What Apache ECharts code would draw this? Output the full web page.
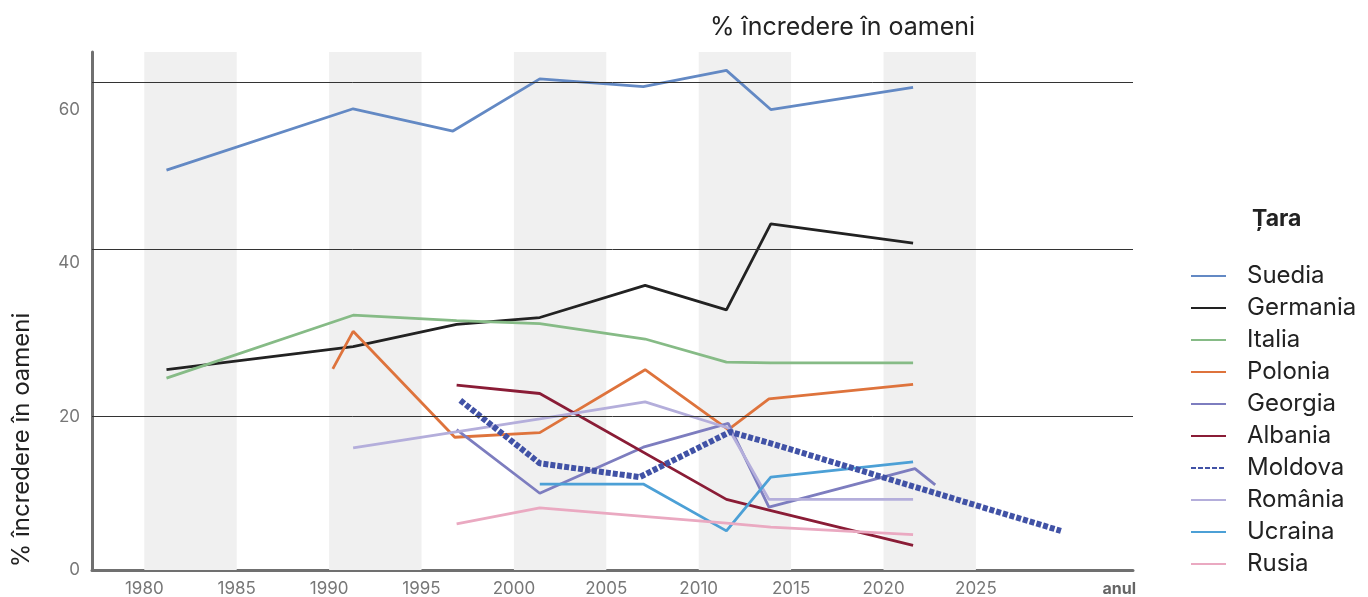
<!DOCTYPE html>
<html>
<head>
<meta charset="utf-8">
<title>% încredere în oameni</title>
<script type="text/javascript" src="https://cdn.jsdelivr.net/npm/echarts@6/dist/echarts.min.js"></script>
<style>
  html, body { margin: 0; padding: 0; background: #fff; }
  #chart { width: 1368px; height: 597px; }
</style>
</head>
<body>
<div id="chart"></div>
<script type="text/javascript">
// date: [an, valoare]
var suedia   = [[1981.2, 52.1], [1991.3, 60.1], [1996.7, 57.2], [2001.4, 64.0], [2007.0, 63.0], [2011.5, 65.1], [2013.9, 60.0], [2021.6, 62.9]];
var germania = [[1981.2, 26.1], [1991.3, 29.1], [1996.9, 32.0], [2001.4, 32.9], [2007.1, 37.1], [2011.5, 33.9], [2013.9, 45.1], [2021.6, 42.6]];
var italia   = [[1981.2, 25.0], [1991.3, 33.2], [1996.9, 32.5], [2001.4, 32.1], [2007.1, 30.1], [2011.5, 27.1], [2013.9, 27.0], [2021.6, 27.0]];
var polonia  = [[1990.2, 26.2], [1991.3, 31.1], [1996.8, 17.3], [2001.4, 17.9], [2007.1, 26.1], [2011.6, 18.3], [2013.8, 22.3], [2021.6, 24.2]];
var georgia  = [[1996.9, 18.3], [2001.4, 10.0], [2007.0, 16.0], [2011.6, 19.1], [2013.8, 8.2], [2021.7, 13.2], [2022.8, 11.1]];
var albania  = [[1996.9, 24.1], [2001.4, 23.0], [2011.5, 9.2], [2013.8, 7.8], [2021.6, 3.2]];
var moldova  = [[1997.1, 22.1], [2001.4, 13.9], [2006.8, 12.1], [2011.7, 18.0], [2013.9, 16.5], [2021.6, 10.9], [2029.6, 5.1]];
var romania  = [[1991.3, 15.9], [2001.4, 19.7], [2007.1, 21.9], [2011.6, 18.5], [2013.8, 9.2], [2021.6, 9.2]];
var ucraina  = [[2001.4, 11.2], [2007.0, 11.2], [2011.5, 5.1], [2013.9, 12.1], [2021.6, 14.1]];
var rusia    = [[1996.9, 6.0], [2001.4, 8.1], [2007.0, 7.0], [2011.5, 6.1], [2013.9, 5.6], [2021.6, 4.6]];

var yearTicks = [1980, 1985, 1990, 1995, 2000, 2005, 2010, 2015, 2020, 2025];
var valueTicks = [0, 20, 40, 60];
var bands = [[1980, 1985], [1990, 1995], [2000, 2005], [2010, 2015], [2020, 2025]];
var refLines = [20, 41.8, 63.6];

var tari = [
  { name: 'Suedia',   data: suedia,   color: '#6389c4' },
  { name: 'Germania', data: germania, color: '#222222' },
  { name: 'Italia',   data: italia,   color: '#86bb86' },
  { name: 'Polonia',  data: polonia,  color: '#de733c' },
  { name: 'Georgia',  data: georgia,  color: '#7d7dbf' },
  { name: 'Albania',  data: albania,  color: '#8a1c36' },
  { name: 'Moldova',  data: moldova,  color: '#4152a6', dashed: true },
  { name: 'România',  data: romania,  color: '#b4aedb' },
  { name: 'Ucraina',  data: ucraina,  color: '#4ca0d6' },
  { name: 'Rusia',    data: rusia,    color: '#eaa9c1' }
];

var font = 'Inter, "Noto Sans", sans-serif';

var series = tari.map(function (t) {
  return {
    name: t.name,
    type: 'line',
    data: t.data,
    symbol: 'none',
    z: t.dashed ? 4 : 3,
    lineStyle: t.dashed
      ? { color: t.color, width: 6, type: [5, 2] }
      : { color: t.color, width: 2.8 },
    itemStyle: { color: t.color }
  };
});

// benzile gri si liniile de referinta
series.unshift({
  name: 'fundal',
  type: 'line',
  data: [],
  silent: true,
  z: 1,
  markArea: {
    silent: true,
    itemStyle: { color: '#f0f0f0' },
    data: bands.map(function (b) { return [{ xAxis: b[0] }, { xAxis: b[1] }]; })
  },
  markLine: {
    silent: true,
    symbol: 'none',
    label: { show: false },
    lineStyle: { color: '#333', width: 1, type: 'solid' },
    data: refLines.map(function (v) { return { yAxis: v }; })
  }
});

var chart = echarts.init(document.getElementById('chart'));
chart.setOption({
  animation: false,
  textStyle: { fontFamily: font },
  title: [
    { text: '% încredere în oameni', left: 705, top: 10,
      textStyle: { fontFamily: font, fontSize: 25, fontWeight: 'normal', color: '#222' } },
    { text: 'Țara', left: 1247, top: 203,
      textStyle: { fontFamily: font, fontSize: 23, fontWeight: 'bold', color: '#222' } }
  ],
  legend: {
    orient: 'vertical',
    left: 1185,
    top: 259,
    itemWidth: 35,
    itemHeight: 14,
    itemGap: 8,
    itemStyle: { opacity: 0 },
    data: tari.map(function (t) { return t.name; }),
    textStyle: { fontFamily: font, fontSize: 24, color: '#222', padding: [0, 0, 0, 16] }
  },
  grid: { left: 92, right: 235, top: 52, bottom: 25, containLabel: false },
  xAxis: {
    type: 'value',
    min: 1977.17,
    max: 2033.5,
    splitLine: { show: false },
    axisTick: { show: false },
    axisLine: { lineStyle: { color: '#707070', width: 3 } },
    axisLabel: { customValues: yearTicks, color: '#777', fontSize: 17, margin: 10, fontFamily: font,
                 formatter: function (v) { return String(v); } }
  },
  yAxis: {
    type: 'value',
    min: 0,
    max: 67.5,
    splitLine: { show: false },
    axisTick: { show: false },
    axisLine: { show: true, lineStyle: { color: '#707070', width: 3 } },
    axisLabel: { customValues: valueTicks, color: '#777', fontSize: 17, margin: 12, fontFamily: font }
  },
  graphic: [
    { type: 'text', x: 22, y: 440, rotation: Math.PI / 2,
      style: { text: '% încredere în oameni', fontFamily: font, fontSize: 24, fill: '#222',
               align: 'center', verticalAlign: 'middle' } },
    { type: 'text', x: 1136, y: 589,
      style: { text: 'anul', fontFamily: font, fontSize: 16, fontWeight: 'bold', fill: '#666',
               align: 'right', verticalAlign: 'middle' } }
  ],
  series: series
});
</script>
</body>
</html>
